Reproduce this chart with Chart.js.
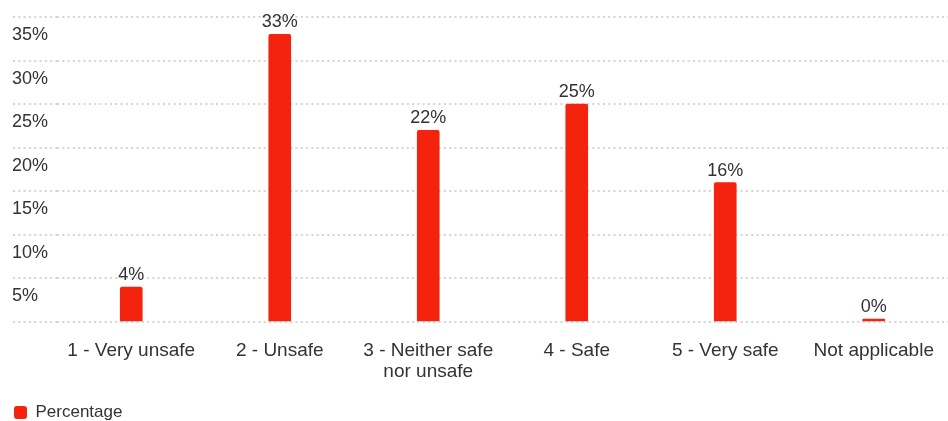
<!DOCTYPE html>
<html>
<head>
<meta charset="utf-8">
<script src="https://cdn.jsdelivr.net/npm/chart.js@4/dist/chart.umd.min.js"></script>
<style>
  html, body { margin: 0; padding: 0; background: #fff; }
  #wrap { width: 948px; height: 421px; }
</style>
</head>
<body>
<div id="wrap"><canvas id="safetyChart"></canvas></div>
<script>
const categories = ["1 - Very unsafe", "2 - Unsafe", ["3 - Neither safe", "nor unsafe"], "4 - Safe", "5 - Very safe", "Not applicable"];
const percentages = [4, 33, 22, 25, 16, 0];
const seriesName = "Percentage";
const yTicks = [0, 5, 10, 15, 20, 25, 30, 35];

const barColor = "#f4230e";
const gridColor = "#d4d4d4";
const textColor = "#333";
const fontFamily = "'Liberation Sans', Arial, sans-serif";

// value labels above each bar
const barLabels = {
  id: "barLabels",
  afterDatasetsDraw(chart) {
    const ctx = chart.ctx;
    const meta = chart.getDatasetMeta(0);
    ctx.save();
    ctx.font = "18px " + fontFamily;
    ctx.fillStyle = textColor;
    ctx.textAlign = "center";
    ctx.textBaseline = "alphabetic";
    meta.data.forEach((bar, i) => {
      ctx.fillText(percentages[i] + "%", bar.x, bar.y - 7);
    });
    ctx.restore();
  }
};

const ctx = document.getElementById("safetyChart").getContext("2d");
new Chart(ctx, {
  type: "bar",
  data: {
    labels: categories,
    datasets: [
      {
        label: seriesName,
        data: percentages,
        backgroundColor: barColor,
        borderRadius: 2,
        borderSkipped: "bottom",
        barThickness: 22,
        minBarLength: 3
      }
    ]
  },
  options: {
    responsive: true,
    maintainAspectRatio: false,
    animation: false,
    // legend sits lower than Chart.js normally allows, hence the negative bottom
    layout: { padding: { left: 12, right: 0, top: 17, bottom: -10 } },
    plugins: {
      tooltip: { enabled: false },
      legend: {
        position: "bottom",
        align: "start",
        labels: {
          boxWidth: 13,
          boxHeight: 13,
          useBorderRadius: true,
          borderRadius: 3,
          padding: 2,
          color: textColor,
          font: { family: fontFamily, size: 17 }
        }
      }
    },
    scales: {
      x: {
        grid: { display: false },
        border: { display: false },
        afterFit: axis => { axis.height = 80; },
        ticks: {
          color: textColor,
          padding: 10,
          maxRotation: 0,
          autoSkip: false,
          font: { family: fontFamily, size: 19, lineHeight: 1.12 }
        }
      },
      y: {
        min: 0,
        max: 35,
        afterBuildTicks: axis => { axis.ticks = yTicks.map(v => ({ value: v })); },
        afterFit: axis => { axis.width = 45; },
        border: { display: false, dash: [2, 3.3] },
        grid: {
          color: gridColor,
          lineWidth: 2,
          drawTicks: true,
          tickLength: 44,
          tickColor: gridColor,
          tickWidth: 2,
          tickBorderDash: [2, 3.3]
        },
        ticks: {
          color: textColor,
          crossAlign: "far",
          labelOffset: 18,
          font: { family: fontFamily, size: 18 },
          callback: v => (v === 0 ? "" : v + "%")
        }
      }
    }
  },
  plugins: [barLabels]
});
</script>
</body>
</html>
